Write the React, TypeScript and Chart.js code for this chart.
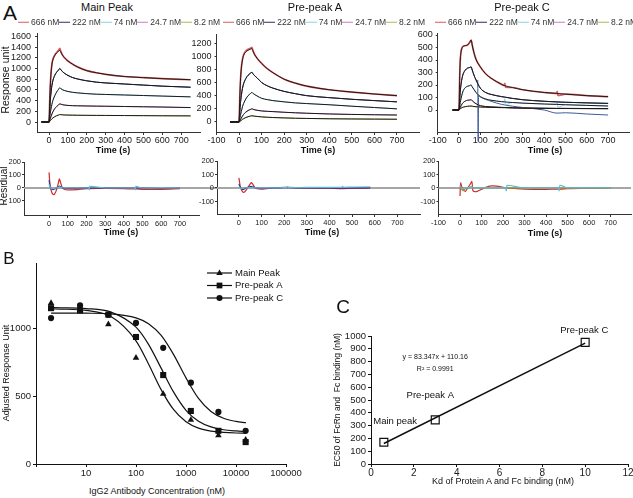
import React, { useEffect, useRef } from "react";
import { Chart, registerables } from "chart.js";

Chart.register(...registerables);

const FONT = "'Liberation Sans', Arial, Helvetica, sans-serif";
const NARROW = "'Liberation Sans Narrow', 'Liberation Sans', Arial, sans-serif";
Chart.defaults.font.family = FONT;

// ---------------- Panel A: legend ----------------
const concLabels = ["666 nM", "222 nM", "74 nM", "24.7 nM", "8.2 nM"];
const concColors = ["#e05a5a", "#27306e", "#86d2e6", "#cf7cc0", "#a9bd4f"];

// ---------------- Panel A: Main Peak sensorgram ----------------
const mainT = [-40, 0, 3, 6, 10, 15, 20, 30, 40, 50, 57, 62, 70, 80, 100, 125, 150, 200, 250, 300, 400, 500, 600, 750];
const main666 = [0, 0, 350, 650, 900, 1080, 1170, 1250, 1300, 1340, 1375, 1320, 1260, 1210, 1140, 1080, 1030, 960, 920, 890, 850, 830, 810, 790];
const main666Fit = [0, 0, 340, 640, 890, 1070, 1160, 1240, 1290, 1320, 1340, 1310, 1255, 1205, 1140, 1080, 1030, 960, 920, 890, 850, 830, 810, 790];
const main222 = [0, 0, 200, 380, 540, 680, 770, 870, 930, 970, 1000, 980, 945, 915, 870, 830, 805, 770, 745, 730, 710, 690, 670, 650];
const main74 = [0, 0, 80, 160, 240, 330, 400, 490, 560, 610, 640, 625, 605, 590, 570, 555, 545, 530, 520, 515, 505, 495, 485, 470];
const main24 = [0, 0, 30, 60, 100, 150, 190, 250, 290, 320, 340, 335, 325, 318, 310, 305, 303, 300, 297, 295, 290, 285, 280, 270];
const main8 = [0, 0, 10, 25, 40, 60, 75, 100, 118, 130, 140, 138, 135, 132, 130, 128, 127, 125, 124, 123, 121, 119, 117, 115];

// ---------------- Panel A: Pre-peak A sensorgram ----------------
const aT = [-40, 0, 3, 6, 10, 15, 20, 30, 40, 50, 57, 62, 70, 80, 100, 125, 150, 200, 250, 300, 400, 500, 600, 700];
const a666 = [0, 0, 350, 620, 820, 950, 1020, 1080, 1105, 1120, 1135, 1080, 1020, 970, 890, 810, 750, 650, 590, 545, 490, 455, 425, 400];
const a666Fit = [0, 0, 340, 610, 810, 940, 1010, 1065, 1090, 1105, 1115, 1075, 1018, 968, 890, 810, 750, 650, 590, 545, 490, 455, 425, 400];
const a222 = [0, 0, 150, 280, 400, 510, 580, 660, 710, 740, 755, 730, 700, 670, 600, 550, 515, 465, 430, 400, 370, 345, 325, 306];
const a74 = [0, 0, 50, 100, 160, 230, 280, 350, 400, 430, 450, 435, 415, 395, 360, 340, 325, 306, 290, 280, 262, 240, 220, 200];
const a24 = [0, 0, 15, 35, 60, 90, 115, 150, 175, 190, 200, 193, 185, 178, 168, 162, 158, 148, 140, 133, 122, 115, 110, 106];
const a8 = [0, 0, 8, 15, 25, 40, 50, 68, 80, 90, 95, 92, 88, 84, 78, 72, 68, 62, 57, 54, 49, 46, 44, 42];

// ---------------- Panel A: Pre-peak C sensorgram ----------------
const cT = [-30, 0, 3, 6, 10, 15, 20, 30, 40, 50, 57, 62, 70, 80, 100, 125, 150, 200, 212, 215, 218, 250, 300, 400, 458, 461, 464, 500, 600, 700];
const c666 = [0, 0, 250, 400, 470, 500, 510, 515, 520, 540, 560, 520, 460, 405, 345, 290, 255, 205, 196, 214, 182, 180, 162, 140, 133, 150, 116, 127, 115, 107];
const c222 = [0, 0, 80, 150, 210, 260, 290, 320, 335, 340, 345, 320, 280, 240, 175, 140, 125, 107, 104, 103, 102, 93, 82, 70, 65, 65, 64, 62, 57, 53];
const c74 = [0, 0, 30, 60, 95, 130, 155, 180, 190, 195, 200, 185, 165, 140, 107, 88, 78, 67, 65, 90, 42, 60, 55, 48, 45, 70, 22, 42, 37, 32];
const c24 = [0, 0, 10, 20, 35, 50, 60, 72, 78, 80, 82, 75, 62, 50, 35, 28, 25, 21, 20, 20, 20, 18, 16, 14, 13, 13, 13, 13, 12, 11];
const c8 = [0, 0, 5, 10, 15, 20, 23, 27, 30, 31, 32, 30, 28, 26, 24, 22, 21, 19, 19, 19, 19, 17, 15, 13, 12, 12, 12, 12, 11, 11];
const cSpikeT = [215, 218, 461, 464];
const cGlitchT = [88, 90, 92, 100, 150, 200, 300, 400, 460, 500, 600, 700];
const cGlitchV = [240, -250, 115, 105, 70, 45, 20, 0, -25, -22, -32, -40];

// ---------------- Panel A: residuals ----------------
const resColors = ["#d42a2a", "#2b3a8a", "#5fb6d6", "#8fae3a"];
const mainResT = [0, 3, 6, 10, 15, 20, 25, 30, 40, 50, 55, 60, 70, 80, 100, 120, 150, 200, 212, 215, 218, 300, 400, 458, 461, 464, 500, 600, 700];
const mainResRed = [120, 60, 20, -10, -35, -48, -52, -45, -15, 40, 70, 50, 5, -10, -15, -15, -12, -6, -5, -5, -5, -3, -5, -8, -8, -8, -10, -10, -5];
const mainResNavy = [60, 30, 10, -5, -10, -12, -10, -8, 0, 10, 15, 12, 3, -2, -3, -3, -2, -1, 0, 0, 0, 0, 0, 0, 0, 0, 0, 0, 0];
const mainResCyan = [30, 15, 5, 0, -5, -5, -4, -2, 2, 5, 8, 6, 2, 0, 0, 0, 0, 0, 0, -15, 12, 0, 0, 0, -15, 12, 0, 2, 0];

const aResT = [0, 3, 6, 10, 15, 20, 25, 30, 40, 50, 55, 60, 70, 80, 100, 120, 150, 200, 212, 215, 218, 300, 400, 455, 458, 461, 500, 580];
const aResRed = [75, 40, 10, -10, -25, -32, -30, -20, 5, 30, 40, 30, 5, -5, -8, -5, 0, 5, 5, 5, 5, 0, -2, -5, -5, -5, -3, 0];
const aResNavy = [30, 15, 5, -5, -10, -10, -5, 0, 5, 10, 12, 8, 2, 0, -2, -2, 0, 2, 2, 2, 2, 0, 0, -2, -2, -2, 0, 0];
const aResCyan = [10, 5, 0, -3, -3, -2, 0, 0, 2, 3, 3, 2, 0, 0, 0, 0, 0, 3, 3, 10, 3, 4, 5, 5, 12, 5, 6, 8];

const cResT = [0, 3, 6, 10, 15, 20, 25, 30, 40, 50, 55, 60, 70, 80, 100, 120, 150, 200, 212, 215, 218, 300, 400, 458, 461, 464, 500, 600, 700];
const cResRed = [-60, 40, 20, 0, -10, -20, -25, -15, 10, 35, 50, -20, -28, -25, -10, 5, 15, 5, 0, 0, 0, -8, -10, -8, -8, -8, -5, -3, 0];
const cResCyan = [20, 10, 0, -5, -5, -3, 0, 0, 2, 3, 3, 0, 0, 0, 0, 0, 0, 0, 0, -22, 20, 0, 0, 0, -22, 20, 0, 0, 0];
const cResGreen = [10, 5, -5, -15, -20, -15, -5, 0, 5, 8, 10, 5, 3, 2, 0, 0, 0, 0, 0, 0, 0, 0, 0, 0, 0, 0, 0, 0, 0];

// ---------------- Panel B ----------------
const bNames = ["Main Peak", "Pre-peak A", "Pre-peak C"];
const bStyles = ["triangle", "rect", "circle"];
const bConc = [2, 7.6, 28, 100, 350, 1250, 4450, 15600];
const bMain = [1183, 1134, 1027, 780, 515, 324, 210, 178];
const bPreA = [1146, 1129, 1098, 934, 654, 390, 244, 161];
const bPreC = [1073, 1166, 1098, 1037, 854, 598, 383, 244];
const bFitX = [2, 3.16, 10, 31.6, 100, 178, 316, 562, 1000, 1778, 3162, 5623, 10000, 15800];
const bFitMain = [1140, 1139, 1129, 1084, 906, 736, 549, 401, 311, 264, 242, 233, 228, 226];
const bFitA = [1150, 1149, 1143, 1117, 1006, 880, 707, 530, 395, 315, 273, 252, 243, 239];
const bFitC = [1110, 1110, 1109, 1104, 1075, 1032, 947, 806, 633, 482, 386, 336, 313, 304];
const bXTicks = [1, 10, 100, 1000, 10000, 100000];
const bYTicks = [0, 500, 1000];

// ---------------- Panel C ----------------
const cKd = [0.6, 3, 10];
const cEC50 = [170, 345, 950];
const cTrendX = [0.6, 10];
const cTrendY = [160, 944];
const cXTicks = [0, 2, 4, 6, 8, 10, 12];
const cYTicks = [0, 100, 200, 300, 400, 500, 600, 700, 800, 900, 1000];
const cNoteText = ["Pre-peak C", "y = 83.347x + 110.16", "R\u00B2 = 0.9991", "Pre-peak A", "Main peak"];
const cNoteX = [9.96, 3.0, 3.0, 2.77, 1.13];
const cNoteY = [1041, 836, 742, 539, 330];
const cNoteSize = [9.5, 7, 7, 9.5, 9.5];

const timeTicks = [0, 100, 200, 300, 400, 500, 600, 700];
const timeTicksNeg = [-100, 0, 100, 200, 300, 400, 500, 600, 700];
const resYTicks = [-100, 0, 100, 200];

// ---------------- helpers ----------------
const toXY = (t: number[], v: number[]) => t.map((x, i) => ({ x, y: v[i] }));
const toXYSkip = (t: number[], v: number[], skip: number[]) =>
  t.map((x, i) => ({ x, y: v[i] })).filter((p) => skip.indexOf(p.x) < 0);

function axis(spec: any, horizontal: boolean, size: number) {
  const color = spec.color || "#333";
  return {
    type: spec.type || "linear",
    min: spec.min,
    max: spec.max,
    bounds: "data",
    afterBuildTicks: (s: any) => {
      s.ticks = spec.ticks.map((v: number) => ({ value: v }));
    },
    afterFit: (s: any) => {
      if (horizontal) s.height = size;
      else s.width = size;
    },
    grid: { display: true, drawOnChartArea: false, drawTicks: true, tickLength: spec.tl, color, lineWidth: 1 },
    border: { display: true, color, width: 1 },
    ticks: {
      font: spec.font,
      color: "#1a1a1a",
      padding: spec.pad,
      autoSkip: false,
      maxRotation: 0,
      minRotation: 0,
      callback: spec.cb || ((v: any) => String(v)),
    },
  };
}

function makeConfig(box: any, area: any, xs: any, ys: any, datasets: any[], plugins: any[] = []) {
  return {
    type: "line",
    data: { datasets },
    options: {
      responsive: false,
      animation: false,
      events: [],
      layout: {
        padding: { left: 0, top: area.T - box.top, right: box.left + box.width - area.R, bottom: 0 },
      },
      plugins: { legend: { display: false }, tooltip: { enabled: false }, title: { display: false } },
      scales: {
        x: axis(xs, true, box.top + box.height - area.B),
        y: axis(ys, false, area.L - box.left),
      },
    },
    plugins,
  };
}

function zeroLine(toEdge: boolean) {
  return {
    id: "zeroLine",
    beforeDatasetsDraw(chart: any) {
      const { ctx, chartArea } = chart;
      const y = chart.scales.y.getPixelForValue(0);
      ctx.save();
      ctx.strokeStyle = "#a6a6a6";
      ctx.lineWidth = 2;
      ctx.beginPath();
      ctx.moveTo(chartArea.left, y);
      ctx.lineTo(toEdge ? chart.width : chartArea.right, y);
      ctx.stroke();
      ctx.restore();
    },
  };
}

function drawMarker(ctx: any, style: string, x: number, y: number, r: number) {
  ctx.beginPath();
  if (style === "triangle") {
    ctx.moveTo(x, y - r);
    ctx.lineTo(x + r * 0.9, y + r * 0.55);
    ctx.lineTo(x - r * 0.9, y + r * 0.55);
    ctx.closePath();
  } else if (style === "rect") {
    ctx.rect(x - r * 0.8, y - r * 0.8, r * 1.6, r * 1.6);
  } else {
    ctx.arc(x, y, r * 0.85, 0, Math.PI * 2);
  }
  ctx.fill();
}

const bLegendPlugin = {
  id: "bLegend",
  afterDatasetsDraw(chart: any) {
    const { ctx, chartArea } = chart;
    const x0 = chartArea.right - 79;
    ctx.save();
    ctx.fillStyle = "#111";
    ctx.strokeStyle = "#111";
    ctx.lineWidth = 1.2;
    ctx.font = `9.5px ${FONT}`;
    ctx.textBaseline = "middle";
    ctx.textAlign = "left";
    bNames.forEach((name, i) => {
      const y = chartArea.top + 10 + i * 12.5;
      ctx.beginPath();
      ctx.moveTo(x0, y);
      ctx.lineTo(x0 + 25, y);
      ctx.stroke();
      drawMarker(ctx, bStyles[i], x0 + 12.5, y, 3.6);
      ctx.fillText(name, x0 + 28, y);
    });
    ctx.restore();
  },
};

const cNotesPlugin = {
  id: "cNotes",
  afterDatasetsDraw(chart: any) {
    const { ctx, scales } = chart;
    ctx.save();
    ctx.fillStyle = "#111";
    ctx.textAlign = "center";
    ctx.textBaseline = "middle";
    cNoteText.forEach((t, i) => {
      ctx.font = `${cNoteSize[i]}px ${FONT}`;
      ctx.fillText(t, scales.x.getPixelForValue(cNoteX[i]), scales.y.getPixelForValue(cNoteY[i]));
    });
    ctx.restore();
  },
};

function sensorDatasets(t: number[], data: number[][], fits: any[][]) {
  const ds: any[] = [];
  data.forEach((v, i) =>
    ds.push({
      data: toXY(t, v),
      borderColor: concColors[i],
      borderWidth: i === 0 ? 1.7 : 1.0,
      pointRadius: 0,
      order: 2,
      cubicInterpolationMode: "monotone",
    })
  );
  fits.forEach((pts) =>
    ds.push({
      data: pts,
      borderColor: "#1a1a1a",
      borderWidth: 1.0,
      pointRadius: 0,
      order: 1,
      cubicInterpolationMode: "monotone",
    })
  );
  return ds;
}

function resDatasets(t: number[], series: number[][], colors: string[]) {
  return series.map((v, i) => ({
    data: toXY(t, v),
    borderColor: colors[i],
    borderWidth: 1.2,
    pointRadius: 0,
    cubicInterpolationMode: "monotone",
  }));
}

const topFont = { size: 9, family: FONT };
const resFont = { size: 7.5, family: NARROW };

// ---------------- boxes ----------------
const mainTopBox = { left: 0, top: 24, width: 215, height: 126 };
const mainTopArea = { L: 37, T: 33, R: 200, B: 132 };
const aTopBox = { left: 180, top: 24, width: 250, height: 126 };
const aTopArea = { L: 216.5, T: 34, R: 419.5, B: 132 };
const cTopBox = { left: 405, top: 24, width: 240, height: 126 };
const cTopArea = { L: 437.7, T: 33, R: 629.4, B: 132 };
const mainResBox = { left: 0, top: 152, width: 222, height: 78 };
const mainResArea = { L: 24, T: 162, R: 199, B: 215 };
const aResBox = { left: 195, top: 152, width: 231, height: 78 };
const aResArea = { L: 217, T: 161, R: 420, B: 214 };
const cResBox = { left: 415, top: 152, width: 230, height: 78 };
const cResArea = { L: 438.5, T: 161, R: 631, B: 214 };
const bBox = { left: 8, top: 255, width: 300, height: 225 };
const bArea = { L: 36, T: 263, R: 286, B: 464 };
const cBox = { left: 335, top: 290, width: 310, height: 200 };
const cArea = { L: 371, T: 336, R: 628, B: 464 };

const makers: { box: any; make: () => any }[] = [
  {
    box: mainTopBox,
    make: () =>
      makeConfig(
        mainTopBox,
        mainTopArea,
        { min: -64, max: 800, ticks: timeTicks, font: topFont, tl: 3, pad: 0 },
        { min: -186, max: 1655, ticks: [0, 200, 400, 600, 800, 1000, 1200, 1400, 1600], font: topFont, tl: 2, pad: 4 },
        sensorDatasets(mainT, [main666, main222, main74, main24, main8], [
          toXY(mainT, main666Fit),
          toXY(mainT, main222),
          toXY(mainT, main74),
          toXY(mainT, main24),
          toXY(mainT, main8),
        ])
      ),
  },
  {
    box: aTopBox,
    make: () =>
      makeConfig(
        aTopBox,
        aTopArea,
        { min: -100, max: 800, ticks: timeTicksNeg, font: topFont, tl: 3, pad: 0 },
        { min: -152, max: 1337, ticks: [0, 200, 400, 600, 800, 1000, 1200], font: topFont, tl: 2, pad: 3 },
        sensorDatasets(aT, [a666, a222, a74, a24, a8], [
          toXY(aT, a666Fit),
          toXY(aT, a222),
          toXY(aT, a74),
          toXY(aT, a24),
          toXY(aT, a8),
        ])
      ),
  },
  {
    box: cTopBox,
    make: () => {
      const ds = sensorDatasets(cT, [c666, c222, c74, c24, c8], [
        toXYSkip(cT, c666, cSpikeT),
        toXYSkip(cT, c222, cSpikeT),
        toXYSkip(cT, c74, cSpikeT),
        toXYSkip(cT, c24, cSpikeT),
        toXYSkip(cT, c8, cSpikeT),
      ]);
      ds.push({
        data: toXY(cGlitchT, cGlitchV),
        borderColor: "#3d5a98",
        borderWidth: 1,
        pointRadius: 0,
        order: 3,
        clip: false,
        cubicInterpolationMode: "monotone",
      });
      return makeConfig(
        cTopBox,
        cTopArea,
        { min: -100, max: 800, ticks: timeTicksNeg, font: topFont, tl: 3, pad: 0 },
        { min: -176, max: 616, ticks: [0, 100, 200, 300, 400, 500, 600], font: topFont, tl: 2, pad: 3 },
        ds
      );
    },
  },
  {
    box: mainResBox,
    make: () =>
      makeConfig(
        mainResBox,
        mainResArea,
        { min: -134, max: 802, ticks: timeTicks, font: resFont, tl: 3, pad: 1 },
        { min: -208, max: 200, ticks: resYTicks, font: resFont, tl: 2, pad: 1, cb: (v: number) => (v < 0 ? "- " + -v : String(v)) },
        resDatasets(mainResT, [mainResCyan, mainResNavy, mainResRed], [resColors[2], resColors[1], resColors[0]]),
        [zeroLine(true)]
      ),
  },
  {
    box: aResBox,
    make: () =>
      makeConfig(
        aResBox,
        aResArea,
        { min: -97, max: 800, ticks: timeTicks, font: resFont, tl: 3, pad: 1 },
        { min: -193, max: 200, ticks: resYTicks, font: resFont, tl: 2, pad: 1 },
        resDatasets(aResT, [aResCyan, aResNavy, aResRed], [resColors[2], resColors[1], resColors[0]]),
        [zeroLine(false)]
      ),
  },
  {
    box: cResBox,
    make: () =>
      makeConfig(
        cResBox,
        cResArea,
        { min: -100, max: 795, ticks: timeTicksNeg, font: resFont, tl: 3, pad: 1 },
        { min: -193, max: 200, ticks: resYTicks, font: resFont, tl: 2, pad: 1 },
        resDatasets(cResT, [cResCyan, cResGreen, cResRed], [resColors[2], resColors[3], resColors[0]]),
        [zeroLine(false)]
      ),
  },
  {
    box: bBox,
    make: () => {
      const fitStyle = { borderColor: "#111", borderWidth: 1.2, pointRadius: 0, cubicInterpolationMode: "monotone" };
      const ptStyle = (style: string, r: number) => ({
        showLine: false,
        pointStyle: style,
        pointRadius: r,
        backgroundColor: "#111",
        borderColor: "#111",
        borderWidth: 0,
      });
      const ds = [
        { data: toXY(bFitX, bFitMain), ...fitStyle },
        { data: toXY(bFitX, bFitA), ...fitStyle },
        { data: toXY(bFitX, bFitC), ...fitStyle },
        { data: toXY(bConc, bMain), ...ptStyle("triangle", 3.8) },
        { data: toXY(bConc, bPreA), ...ptStyle("rect", 4.3) },
        { data: toXY(bConc, bPreC), ...ptStyle("circle", 3.1) },
      ];
      return makeConfig(
        bBox,
        bArea,
        {
          type: "logarithmic",
          min: 1,
          max: 100000,
          ticks: bXTicks,
          font: { size: 9.5, family: FONT },
          tl: 3,
          pad: 1,
          color: "#111",
          cb: (v: number) => (v === 1 ? "" : String(v)),
        },
        { min: 0, max: 1478, ticks: bYTicks, font: { size: 9.5, family: FONT }, tl: 3, pad: 2, color: "#111" },
        ds,
        [bLegendPlugin]
      );
    },
  },
  {
    box: cBox,
    make: () =>
      makeConfig(
        cBox,
        cArea,
        { min: 0, max: 12, ticks: cXTicks, font: { size: 10, family: FONT }, tl: 3, pad: 0, color: "#111" },
        { min: 0, max: 1000, ticks: cYTicks, font: { size: 9.5, family: FONT }, tl: 3, pad: 2, color: "#111" },
        [
          { data: toXY(cTrendX, cTrendY), borderColor: "#111", borderWidth: 1.5, pointRadius: 0 },
          {
            data: toXY(cKd, cEC50),
            showLine: false,
            pointStyle: "rect",
            pointRadius: 5.6,
            backgroundColor: "rgba(0,0,0,0)",
            borderColor: "#111",
            borderWidth: 1.2,
          },
        ],
        [cNotesPlugin]
      ),
  },
];

function ChartBox({ box, make }: any) {
  const ref = useRef<HTMLCanvasElement>(null);
  useEffect(() => {
    const chart = new Chart(ref.current as HTMLCanvasElement, make());
    return () => chart.destroy();
  }, [make]);
  return (
    <canvas
      ref={ref}
      width={box.width}
      height={box.height}
      style={{ position: "absolute", left: box.left, top: box.top, width: box.width, height: box.height }}
    />
  );
}

function Txt({ x, y, size, children, bold, rot, color }: any) {
  return (
    <div
      style={{
        position: "absolute",
        left: x,
        top: y,
        transform: `translate(-50%, -50%)${rot ? " rotate(-90deg)" : ""}`,
        fontSize: size,
        fontWeight: bold ? "bold" : "normal",
        whiteSpace: "pre",
        lineHeight: 1,
        fontFamily: FONT,
        color: color || "#111",
      }}
    >
      {children}
    </div>
  );
}

function LegendA({ cx, y }: any) {
  return (
    <div
      style={{
        position: "absolute",
        left: cx,
        top: y,
        transform: "translate(-50%, -50%)",
        width: 188,
        display: "flex",
        justifyContent: "space-between",
        fontSize: 8.5,
        lineHeight: 1,
        whiteSpace: "nowrap",
        color: "#333",
        fontFamily: FONT,
      }}
    >
      {concLabels.map((l, i) => (
        <span key={i} style={{ display: "flex", alignItems: "center" }}>
          <span
            style={{
              display: "inline-block",
              width: 11,
              height: 0,
              borderTop: `1.5px solid ${concColors[i]}`,
              marginRight: 2,
            }}
          />
          {l}
        </span>
      ))}
    </div>
  );
}

export default function App() {
  return (
    <div
      style={{
        position: "absolute",
        left: 0,
        top: 0,
        width: 633,
        height: 498,
        overflow: "hidden",
        background: "#fff",
        fontFamily: FONT,
      }}
    >
      {makers.map((m, i) => (
        <ChartBox key={i} box={m.box} make={m.make} />
      ))}

      <Txt x={10} y={12} size={21}>A</Txt>
      <Txt x={107} y={7} size={11}>Main Peak</Txt>
      <Txt x={315} y={7} size={11}>Pre-peak A</Txt>
      <Txt x={522} y={7} size={11}>Pre-peak C</Txt>
      <LegendA cx={112} y={22} />
      <LegendA cx={317} y={22} />
      <LegendA cx={529} y={22} />

      <Txt x={5} y={80} size={10.5} rot>Response unit</Txt>
      <Txt x={113} y={150} size={9} bold>Time (s)</Txt>
      <Txt x={318} y={150} size={9} bold>Time (s)</Txt>
      <Txt x={545} y={150} size={9} bold>Time (s)</Txt>

      <Txt x={4} y={186} size={10} rot>Residual</Txt>
      <Txt x={121} y={232} size={9} bold>Time (s)</Txt>
      <Txt x={322} y={232} size={9} bold>Time (s)</Txt>
      <Txt x={545} y={233} size={9} bold>Time (s)</Txt>

      <Txt x={9} y={258} size={17}>B</Txt>
      <Txt x={6} y={373} size={9} rot>Adjusted Response Unit</Txt>
      <Txt x={157} y={491} size={9}>IgG2 Antibody Concentration (nM)</Txt>

      <Txt x={343} y={306} size={19}>C</Txt>
      <Txt x={337} y={400} size={8.5} rot>{"EC50 of FcRn and  Fc binding (nM)"}</Txt>
      <Txt x={503} y={481} size={9}>Kd of Protein A and Fc binding (nM)</Txt>
    </div>
  );
}
